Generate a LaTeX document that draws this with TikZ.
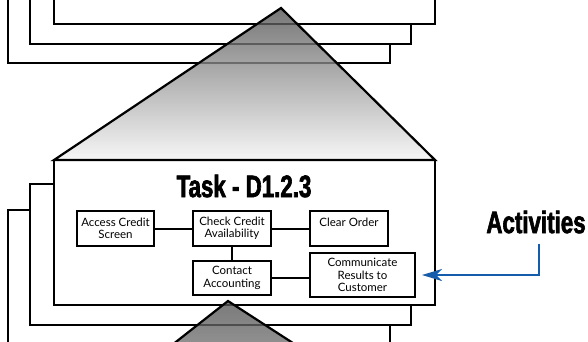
\documentclass[tikz,border=0pt]{standalone}
\usepackage{fontspec}
\setmainfont{Lato}
\newfontfamily\headfont[FakeStretch=0.72, FakeBold=2]{Liberation Sans}
\usetikzlibrary{arrows.meta}
\definecolor{arrowblue}{RGB}{22,92,172}
\definecolor{shadetop}{RGB}{80,80,80}
\definecolor{shadebot}{RGB}{244,244,244}
\definecolor{darktop}{RGB}{85,85,85}
\definecolor{darkbot}{RGB}{150,150,150}

\begin{document}
\begin{tikzpicture}[x=1pt, y=-1pt,
	frame/.style={draw, line width=2.4pt, fill=white},
	tri/.style={draw, line width=2.2pt, line join=miter, fill opacity=0.78},
	actbox/.style={draw, line width=2pt, inner sep=0pt, align=center, font=\fontsize{11.5}{12.4}\selectfont},
	head/.style={inner sep=2pt, font=\headfont\bfseries\fontsize{31}{31}\selectfont},
	link/.style={line width=2pt}]
	\useasboundingbox (0,0) rectangle (588,341);
	\clip (0,0) rectangle (588,341);
	\foreach \l/\r/\b in {8/390/63, 30/411/44, 54/435/24} {\draw[frame] (\l,-20) rectangle (\r,\b);}
	\foreach \l/\t/\r/\b in {8/210/390/380, 30/184/411/325, 54/160/435/305} {\draw[frame] (\l,\t) rectangle (\r,\b);}
	\draw[tri, top color=shadetop, bottom color=shadebot] (281,8) -- (435,160) -- (54,160) -- cycle;
	\draw[tri, top color=darktop, bottom color=darkbot] (228,301) -- (381,400) -- (102,400) -- cycle;
	\node[head] (title) at (244,186) {Task - D1.2.3};
	\node[head] (act) at (536,222) {Activities};
	\node[actbox, minimum width=77, minimum height=35] (access) at (115.5,228.5) {Access Credit\\Screen};
	\node[actbox, minimum width=78, minimum height=35] (check) at (232,228.5) {Check Credit\\Availability};
	\node[actbox, minimum width=78, minimum height=35] (clear) at (349,228.5) {Clear Order\\\mbox{}};
	\node[actbox, minimum width=78, minimum height=34] (contact) at (232,278) {Contact\\Accounting};
	\node[actbox, minimum width=105, minimum height=44] (comm) at (362.5,275) {Communicate\\Results to\\Customer};
	\draw[link] (access) -- (check);
	\draw[link] (check) -- (clear);
	\draw[link] (check) -- (contact);
	\draw[link] (contact.east) -- (contact.east -| comm.west);
	\draw[arrowblue, line width=2.2pt, -{Stealth[length=20pt, width=12pt, inset=6pt]}, shorten <=8pt, shorten >=6pt] ([xshift=3pt]act.south) |- (comm.east);
\end{tikzpicture}
\end{document}
